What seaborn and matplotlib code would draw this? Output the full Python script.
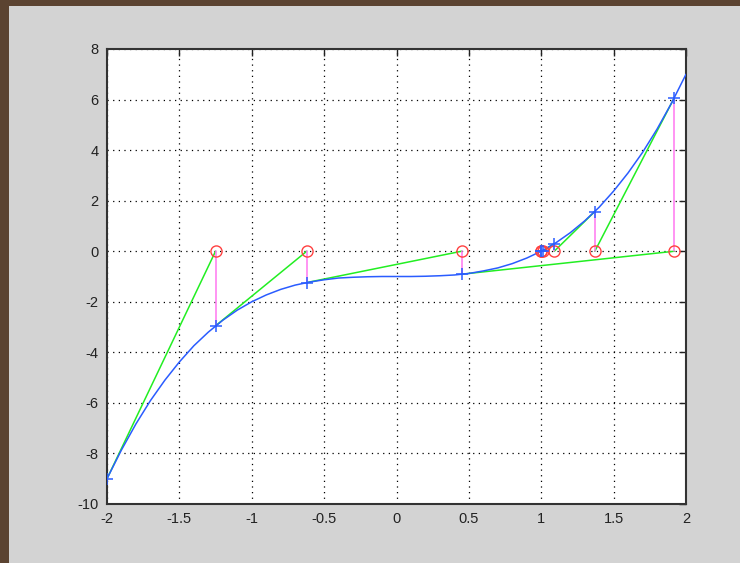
import numpy as np
import matplotlib
matplotlib.use("Agg")
import matplotlib.pyplot as plt
from matplotlib.patches import Rectangle
import seaborn as sns

sns.set_style("white")
plt.rcParams['font.family'] = ['Liberation Sans', 'DejaVu Sans']

curve_x = [-2.0, -1.9, -1.8, -1.7, -1.6, -1.5, -1.4, -1.3, -1.2, -1.1, -1.0,
           -0.9, -0.8, -0.7, -0.6, -0.5, -0.4, -0.3, -0.2, -0.1, 0.0,
           0.1, 0.2, 0.3, 0.4, 0.5, 0.6, 0.7, 0.8, 0.9, 1.0,
           1.1, 1.2, 1.3, 1.4, 1.5, 1.6, 1.7, 1.8, 1.9, 2.0]
curve_y = [-9.0, -7.86, -6.83, -5.91, -5.10, -4.38, -3.74, -3.20, -2.73, -2.33, -2.0,
           -1.73, -1.51, -1.34, -1.22, -1.13, -1.06, -1.03, -1.01, -1.0, -1.0,
           -1.0, -0.99, -0.97, -0.94, -0.88, -0.78, -0.66, -0.49, -0.27, 0.0,
           0.33, 0.73, 1.20, 1.74, 2.38, 3.10, 3.91, 4.83, 5.86, 7.0]

# iterates: x_k and f(x_k)
iter_x = [-2.0, -1.25, -0.62, 0.45, 1.92, 1.37, 1.09, 1.01, 1.0, 1.0]
iter_f = [-9.0, -2.95, -1.24, -0.91, 6.08, 1.57, 0.30, 0.02, 0.0, 0.0]

x_ticks = [-2, -1.5, -1, -0.5, 0, 0.5, 1, 1.5, 2]
y_ticks = [-10, -8, -6, -4, -2, 0, 2, 4, 6, 8]

fig = plt.figure(figsize=(7.4, 5.63), dpi=100)
fig.patch.set_facecolor("#5b4331")
fig.patches.append(Rectangle((9 / 740, 0), 1, 1 - 6 / 563, transform=fig.transFigure,
                             facecolor="#d3d3d3", edgecolor="none", zorder=-10))

ax = fig.add_axes([107 / 740, 1 - 504 / 563, 579 / 740, 455 / 563])
ax.set_facecolor("white")

# tangent segments (green) and verticals (magenta)
for k in range(len(iter_x) - 1):
    ax.plot([iter_x[k], iter_x[k + 1]], [iter_f[k], 0], color="#22ee22", lw=1.1, zorder=3)
for k in range(1, len(iter_x)):
    ax.plot([iter_x[k], iter_x[k]], [0, iter_f[k]], color="#ff77f0", lw=1.1, zorder=3)

sns.lineplot(x=curve_x, y=curve_y, ax=ax, color="#2a5cff", lw=1.1,
             sort=False, estimator=None, zorder=4)

ax.plot(iter_x[1:], [0] * (len(iter_x) - 1), "o", mfc="none", mec="#ff4040",
        ms=8, mew=1.0, ls="none", zorder=5)
ax.plot(iter_x, iter_f, "+", color="#2a5cff", ms=8, mew=1.1, ls="none", zorder=6)

ax.set_xlim(-2, 2)
ax.set_ylim(-10, 8)
ax.set_xticks(x_ticks)
ax.set_xticklabels(["-2", "-1.5", "-1", "-0.5", "0", "0.5", "1", "1.5", "2"])
ax.set_yticks(y_ticks)
ax.set_yticklabels([str(v) for v in y_ticks])

ax.grid(True, color="black", linestyle=(0, (1, 3.5)), linewidth=0.9)
ax.tick_params(direction="in", length=5, width=1, top=True, right=True,
               labelsize=10.5, colors="#222222", pad=6)
for s in ax.spines.values():
    s.set_color("#333333")
    s.set_linewidth(1.5)

fig.savefig("out.png", dpi=100, facecolor=fig.get_facecolor())
